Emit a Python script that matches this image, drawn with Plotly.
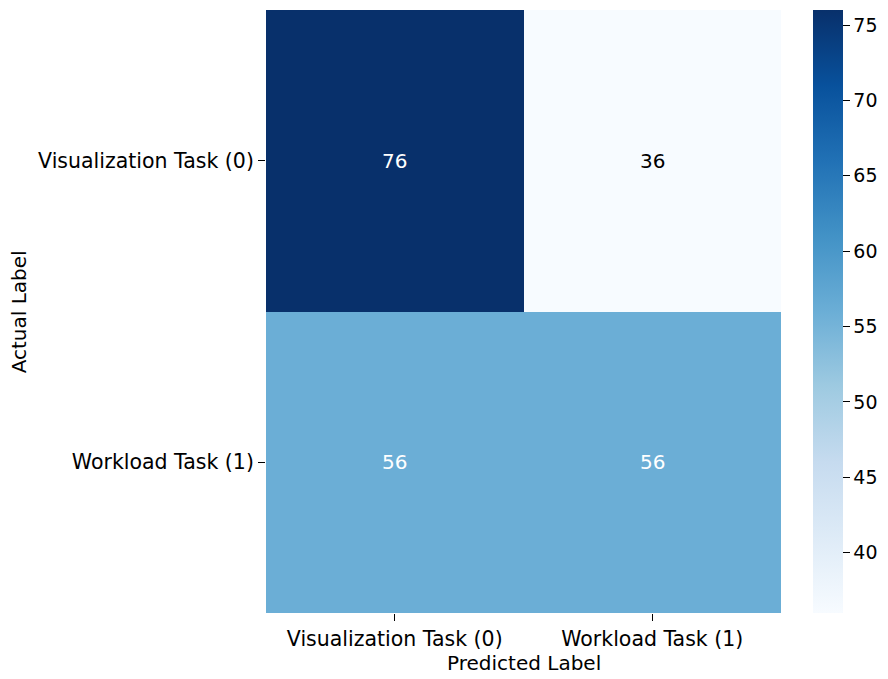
import plotly.graph_objects as go

# --- Données de la matrice de confusion ---
predicted = ["Visualization Task (0)", "Workload Task (1)"]
actual = ["Visualization Task (0)", "Workload Task (1)"]
counts = [[76, 36],
          [56, 56]]
cbar_ticks = [40, 45, 50, 55, 60, 65, 70, 75]

blues = ["#f7fbff", "#deebf7", "#c6dbef", "#9ecae1", "#6baed6",
         "#4292c6", "#2171b5", "#08519c", "#08306b"]
scale = [[i / (len(blues) - 1), c] for i, c in enumerate(blues)]

zmin = min(min(r) for r in counts)
zmax = max(max(r) for r in counts)

fig = go.Figure(go.Heatmap(
    z=counts, x=predicted, y=actual,
    colorscale=scale, zmin=zmin, zmax=zmax,
    colorbar=dict(
        x=1.062, xanchor="left", xpad=0, ypad=0,
        thickness=30, len=1, lenmode="fraction",
        y=0.5, yanchor="middle", outlinewidth=0,
        tickvals=cbar_ticks, ticks="outside", ticklen=7, tickcolor="black",
        tickfont=dict(size=19, color="black"),
    ),
))

# annotations : texte blanc sur cases foncées, noir sinon
mid = (zmin + zmax) / 2
for i, row in enumerate(counts):
    for j, v in enumerate(row):
        fig.add_annotation(
            x=predicted[j], y=actual[i], text=str(v), showarrow=False,
            font=dict(size=20, color="white" if v >= mid else "black"),
        )

# titres des axes (placés à la main)
fig.add_annotation(text="Predicted Label", xref="paper", yref="paper",
                   x=0.5, y=-0.083, xanchor="center", yanchor="middle",
                   showarrow=False, font=dict(size=20))
fig.add_annotation(text="Actual Label", xref="paper", yref="paper",
                   x=-0.48, y=0.5, xanchor="center", yanchor="middle",
                   textangle=-90, showarrow=False, font=dict(size=20))

# la page ajoute 8 px de marge autour de la figure
fig.update_layout(
    width=880, height=671,
    margin=dict(l=258, r=107, t=2, b=66),
    plot_bgcolor="white", paper_bgcolor="white",
    font=dict(family="DejaVu Sans", size=20, color="black"),
)
fig.update_xaxes(ticks="outside", ticklen=7, tickcolor="black",
                 tickfont=dict(size=20.5), showgrid=False, zeroline=False)
fig.update_yaxes(autorange="reversed",
                 ticks="outside", ticklen=7, tickcolor="black",
                 tickfont=dict(size=20.5), showgrid=False, zeroline=False)

fig.write_html("out.html")
